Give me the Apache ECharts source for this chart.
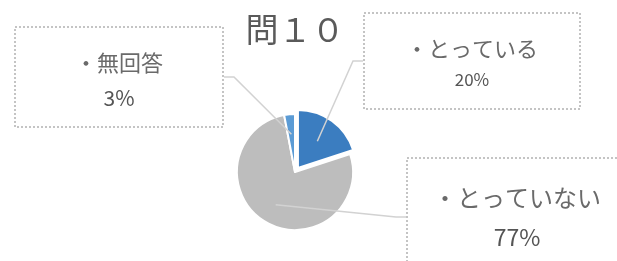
<!DOCTYPE html>
<html><head><meta charset="utf-8">
<script src="https://cdn.jsdelivr.net/npm/echarts@6/dist/echarts.min.js"></script>
<style>html,body{margin:0;padding:0;background:#fff}#c{width:617px;height:261px}</style>
</head><body><div id="c"></div>
<script>
const titleText = '問１０';
const categories = ['とっている', 'とっていない', '無回答'];
const values = [20, 77, 3];
const colors = ['#3b7dc0', '#bdbdbd', '#5b9bd5'];

// label box layout (decoration only)
const boxes = [
  {cx: 472, top: 13, w: 216, pad: [20, 0, 14, 0], nSize: 22, nLH: 32, pSize: 17, pLH: 30},
  {cx: 517, top: 158, w: 220, pad: [20, 0, 20, 0], nSize: 24, nLH: 40, pSize: 23, pLH: 38},
  {cx: 119, top: 27, w: 208, pad: [18, 0, 12, 0], nSize: 22, nLH: 36, pSize: 21, pLH: 34}
];
const FONT = '"Noto Sans CJK JP", "Noto Sans", sans-serif';

const chart = echarts.init(document.getElementById('c'), null, {renderer: 'canvas'});

const pieData = categories.map((name, i) => ({
  name, value: values[i], selected: i === 0, itemStyle: {color: colors[i]}
}));
const labelData = categories.map((name, i) => ({
  name, value: values[i],
  label: {
    width: boxes[i].w,
    padding: boxes[i].pad,
    rich: {
      n: {fontSize: boxes[i].nSize, lineHeight: boxes[i].nLH, color: '#6a6a6a', fontFamily: FONT, align: 'center'},
      p: {fontSize: boxes[i].pSize, lineHeight: boxes[i].pLH, color: '#555', fontFamily: FONT, align: 'center'}
    }
  }
}));

chart.setOption({
  animation: false,
  backgroundColor: '#fff',
  title: {
    text: titleText, left: 290, top: 8, textAlign: 'center',
    textStyle: {fontSize: 33, fontWeight: 'normal', color: '#5a5a5a', fontFamily: FONT}
  },
  series: [{
    type: 'pie',
    center: [295, 172],
    radius: [0, 58],
    startAngle: 90,
    clockwise: true,
    selectedMode: 'single',
    selectedOffset: 5,
    silent: true,
    itemStyle: {borderColor: '#fff', borderWidth: 2},
    label: {show: false},
    labelLine: {show: false},
    emphasis: {disabled: true},
    data: pieData
  }, {
    type: 'pie',
    center: [295, 172],
    radius: [0, 38],
    startAngle: 90,
    clockwise: true,
    silent: true,
    z: 3,
    itemStyle: {color: 'transparent', borderWidth: 0},
    label: {
      show: true,
      formatter: '{n|・{b}}\n{p|{d}%}',
      align: 'center',
      borderColor: '#c4c4c4',
      borderWidth: 1,
      borderType: 'dotted',
      backgroundColor: 'transparent'
    },
    labelLine: {show: true, lineStyle: {color: '#d2d2d2', width: 1.5}, length: 10, length2: 10},
    labelLayout: function (p) {
      const b = boxes[p.dataIndex];
      return {x: b.cx, y: b.top, align: 'center', verticalAlign: 'top'};
    },
    emphasis: {disabled: true},
    data: labelData
  }]
});
</script></body></html>
